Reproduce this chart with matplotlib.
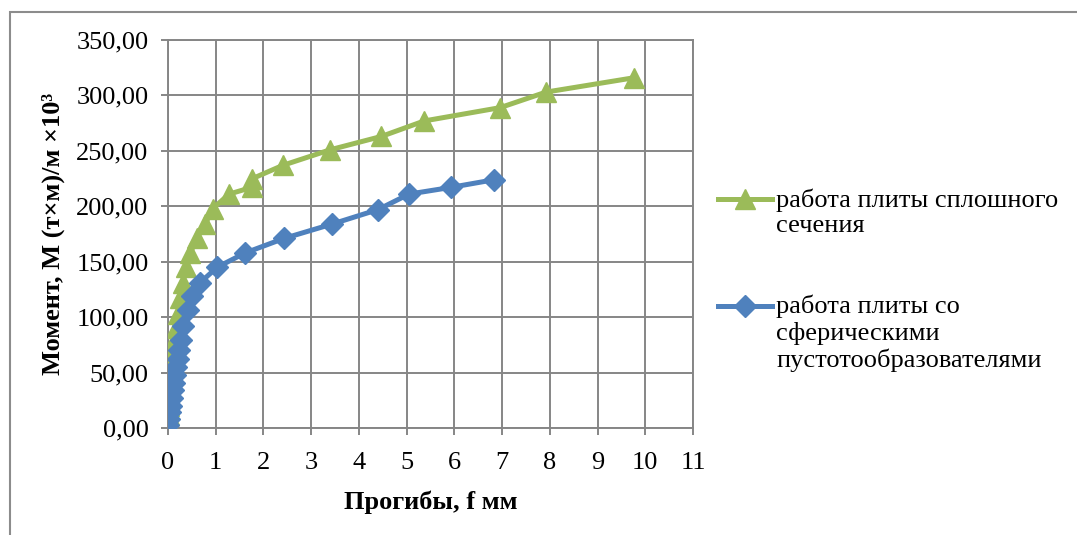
import matplotlib.pyplot as plt
from matplotlib.patches import Rectangle

plt.rcParams['font.family'] = ['Liberation Serif', 'DejaVu Serif']

# solid slab
solid_f = [0.0, 0.02, 0.03, 0.04, 0.05, 0.06, 0.08, 0.10, 0.12, 0.14, 0.17, 0.21,
           0.26, 0.31, 0.38, 0.47, 0.60, 0.78, 0.94, 1.28, 1.75, 1.77, 2.41, 3.40,
           4.47, 5.37, 6.96, 7.92, 9.77]
solid_m = [5, 12, 20, 28, 36, 44, 52, 60, 70, 80, 90, 103,
           117, 131, 145, 158, 171, 184, 198, 211, 217, 225, 237, 251,
           263, 277, 289, 303, 316]

# slab with spherical void formers
void_f = [0.0, 0.02, 0.04, 0.06, 0.08, 0.10, 0.12, 0.14, 0.17, 0.20, 0.23, 0.27,
          0.31, 0.41, 0.51, 0.67, 1.03, 1.62, 2.43, 3.44, 4.40, 5.05, 5.92, 6.84]
void_m = [3, 8, 14, 20, 27, 34, 41, 48, 55, 62, 70, 79,
          92, 106, 119, 131, 145, 158, 171, 184, 197, 211, 217, 224]

labels = ['работа плиты сплошного\nсечения',
          'работа плиты со\nсферическими\nпустотообразователями']
xticks = list(range(0, 12))
yticks = list(range(0, 351, 50))

fig = plt.figure(figsize=(10.77, 5.35), dpi=100)
ax = fig.add_axes([168 / 1077, 1 - 428 / 535, 525 / 1077, 388 / 535])

ax.plot(solid_f, solid_m, color='#9BBB59', lw=3.6, marker='^', ms=14,
        mec='#9BBB59', label=labels[0], zorder=3)
ax.plot(void_f, void_m, color='#4F81BD', lw=3.6, marker='D', ms=11,
        mec='#4F81BD', label=labels[1], zorder=4)

ax.set_xlim(0, 11)
ax.set_ylim(0, 350)
ax.set_xticks(xticks)
ax.set_yticks(yticks)
ax.set_yticklabels([f'{v:.2f}'.replace('.', ',') for v in yticks])
ax.grid(True, color='#868686', lw=1.4)
ax.set_axisbelow(True)
for s in ax.spines.values():
    s.set_color('#868686')
    s.set_linewidth(1.4)
ax.tick_params(length=5, width=1.4, color='#868686', labelsize=19, pad=9)
ax.tick_params(axis='x', pad=12)

ax.set_xlabel('Прогибы, f мм', fontsize=19, fontweight='bold', labelpad=12)
ax.set_ylabel('Момент, М (т×м)/м ×10³', fontsize=19, fontweight='bold', labelpad=8)

leg = fig.legend(loc='upper left', bbox_to_anchor=(718 / 1077, 1 - 188 / 535),
                 frameon=False, fontsize=19, handlelength=2.05, handletextpad=0.15,
                 handleheight=1.2, labelspacing=2.2, borderpad=0, borderaxespad=0)
# put each legend line next to the first row of its label
for col in leg._legend_handle_box.get_children():
    for row in col.get_children():
        row.align = 'top'

fig.patches.append(Rectangle((10 / 1077, -0.1), 1.2, 1 - 12 / 535 + 0.1,
                             transform=fig.transFigure, fill=False,
                             ec='#8c8c8c', lw=1.5))

fig.savefig('out.png', dpi=100)
